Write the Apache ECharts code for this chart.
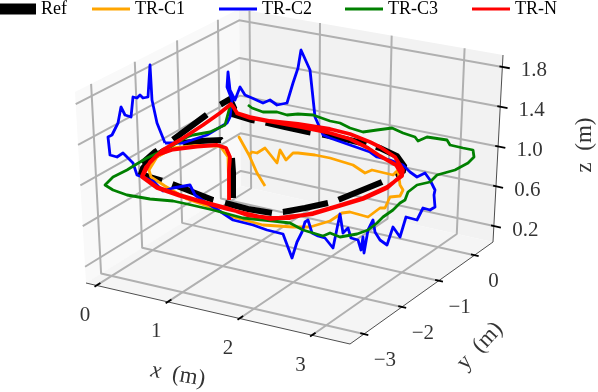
<!DOCTYPE html>
<html>
<head>
<meta charset="utf-8">
<style>html,body{margin:0;padding:0;background:#fff}#chart{width:598px;height:392px}</style>
<script src="https://cdn.jsdelivr.net/npm/echarts@6/dist/echarts.min.js"></script>
</head>
<body>
<div id="chart"></div>
<script>
// tick values of the 3d box
const xTicks = [0, 1, 2, 3];
const yTicks = [0, -1, -2, -3];
const zTicks = [0.2, 0.6, 1.0, 1.4, 1.8];
const xRange = [-0.15, 3.52];
const yRange = [-3.36, 0.53];
const zRange = [0.04, 1.92];

// curves, on the projected view plane (depth can't be recovered from one view)
const refPath = [[233,198],[233,172],[232,158],[227,146],[221,140],[200,141],[183,143],[165,150],[152,158],[143,168],[141,174],[150,177],[160,180],[172,184],[213,200],[225,203],[248,209],[272,213],[283,212],[305,208],[328,203],[338,200],[360,191],[382,182],[395,175],[403,171],[404,166],[397,156],[380,148],[366,144],[345,139],[320,134],[308,132],[285,127],[263,122],[252,120],[232,114],[234,108],[230,99],[218,106],[205,116],[171,141],[155,152],[140,165],[141,174]];
const c1Path = [[229,200],[228,157],[220,146],[197,145.5],[173,148],[157,157],[149,170],[151,177],[165,186],[187,199],[210,207],[233,217],[263,225],[293,227],[310,227],[330,221],[342,213],[350,212],[368,217],[380,208],[385,208],[390,197],[400,196],[403,190],[400,185],[398,170],[393,175],[372,170],[365,173],[353,165],[330,158],[315,155],[298,153],[293,153],[286,160],[280,150],[277,163],[265,148],[257,153],[252,152],[249,155],[239,137],[249,155],[257,173],[265,186]];
const c2Path = [[165,143],[157,123],[152,100],[150,65],[148,97],[143,98],[140,95],[137,98],[133,97],[131,117],[125,115],[121,107],[118,123],[112,135],[108,137],[110,155],[117,157],[123,153],[133,163],[137,175],[145,178],[153,181],[163,191],[173,188],[190,185],[195,195],[205,202],[218,210],[233,220],[253,225],[267,230],[283,234],[292,258],[297,242],[302,232],[305,222],[308,220],[312,233],[318,236],[325,238],[333,248],[340,214],[343,233],[348,228],[351,238],[358,240],[361,250],[363,237],[364,253],[368,230],[373,220],[375,232],[380,240],[387,245],[393,227],[400,237],[406,217],[417,220],[423,208],[430,210],[435,207],[434,195],[435,190],[430,180],[425,173],[417,177],[410,172],[403,165],[390,160],[377,157],[370,152],[350,145],[330,138],[323,135],[315,117],[310,70],[301,50],[298,68],[293,83],[287,103],[277,105],[270,100],[263,103],[252,98],[245,95],[240,87],[235,100],[230,90],[228,72],[227,87],[232,100],[230,117],[227,123],[207,135],[183,143],[165,143]];
const c3Path = [[248,105],[252,108],[263,112],[277,112],[287,115],[298,114],[313,115],[330,121],[340,123],[350,128],[363,132],[377,130],[392,128],[403,133],[415,137],[418,141],[427,137],[447,140],[450,145],[463,148],[473,150],[474,157],[468,163],[455,170],[437,175],[430,182],[417,185],[408,192],[405,200],[400,203],[393,210],[383,217],[377,223],[368,230],[357,234],[340,237],[330,233],[323,236],[313,233],[303,230],[290,223],[273,221],[243,218],[213,210],[187,204],[173,201],[150,199],[127,195],[113,190],[105,185],[113,177],[127,170],[135,165],[147,158],[170,147],[187,137],[193,135],[210,132],[225,125],[229,110],[230,107]];
const nPath = [[229,200],[229,170],[230,157],[226,148],[217,145],[197,146.5],[173,149.5],[157,155],[146,167],[142,176],[157,187],[180,195],[197,200],[227,208],[247,215],[270,218],[290,218],[313,213],[337,206],[363,198],[387,187],[402,176],[403,170],[395,157],[380,147],[370,142],[350,134],[330,129],[298,124],[270,121],[250,117],[237,113],[234,108],[231,104],[220,113],[203,125],[180,140],[163,150],[150,162],[142,177],[157,188],[180,196],[227,209],[270,219],[313,214],[363,199],[387,188],[402,175],[396,165],[380,156],[368,148],[350,139],[330,133],[300,127],[250,118],[236,113]];

const legendNames = ["Ref", "TR-C1", "TR-C2", "TR-C3", "TR-N"];
const legendLeft = [-2, 92, 219, 345, 472];
const curveColors = ["#000000", "#ffa500", "#0000ff", "#008000", "#ff0000"];
const curvePaths = [refPath, c1Path, c2Path, c3Path, nPath];
const curveWidths = [6, 2.8, 2.8, 2.8, 3.8];
// on/off lengths of the Ref dashes as they land along its path
const refDash = [40, 21, 39, 19, 57, 11, 44, 12, 48, 11, 46, 11, 47, 15, 49, 10, 45, 12, 46, 11, 51, 17, 42, 19, 20, 40];

// perspective of the box: one quad for the floor, one for the top, fitted from the corners on the view plane
const floorQuad = [[86, 283], [350, 344], [493, 242], [241, 186]];
const topQuad = [[75, 92], [352, 144], [503, 55], [239, 9]];

function fitQuad(q) {
  let [A, B, C, D] = q;
  let dx1 = B[0] - C[0], dx2 = D[0] - C[0], sx = A[0] - B[0] + C[0] - D[0];
  let dy1 = B[1] - C[1], dy2 = D[1] - C[1], sy = A[1] - B[1] + C[1] - D[1];
  let den = dx1 * dy2 - dx2 * dy1;
  let g = (sx * dy2 - dx2 * sy) / den;
  let h = (dx1 * sy - sx * dy1) / den;
  return function (s, t) {
    let w = 1 + g * s + h * t;
    return [
      (A[0] + (B[0] - A[0] + g * B[0]) * s + (D[0] - A[0] + h * D[0]) * t) / w,
      (A[1] + (B[1] - A[1] + g * B[1]) * s + (D[1] - A[1] + h * D[1]) * t) / w,
    ];
  };
}
const floorAt = fitQuad(floorQuad);
const topAt = fitQuad(topQuad);

function project(x, y, z) {
  let s = (x - xRange[0]) / (xRange[1] - xRange[0]);
  let t = (y - yRange[0]) / (yRange[1] - yRange[0]);
  let r = (z - zRange[0]) / (zRange[1] - zRange[0]);
  let a = floorAt(s, t), b = topAt(s, t);
  return [a[0] + (b[0] - a[0]) * r, a[1] + (b[1] - a[1]) * r];
}

const [x0, x1] = xRange, [y0, y1] = yRange, [z0, z1] = zRange;
const series = [];

function addPane(corners, color) {
  series.push({
    type: "custom",
    silent: true,
    z: 1,
    coordinateSystem: "cartesian2d",
    data: [0],
    renderItem: function (params, api) {
      return {
        type: "polygon",
        shape: { points: corners.map((c) => api.coord(project(c[0], c[1], c[2]))) },
        style: { fill: color },
      };
    },
  });
}

function addLine(points, color, width, z) {
  series.push({
    type: "line",
    silent: true,
    animation: false,
    symbol: "none",
    z: z,
    data: points,
    lineStyle: { color: color, width: width },
  });
}

function addLabels(items, fontSize) {
  series.push({
    type: "scatter",
    silent: true,
    animation: false,
    symbolSize: 1,
    z: 6,
    itemStyle: { color: "transparent" },
    data: items.map((d) => ({
      value: d.pos,
      label: {
        show: true,
        position: "inside",
        align: "center",
        verticalAlign: "middle",
        formatter: d.text,
        rotate: d.rotate || 0,
        color: "#000",
        fontFamily: "Liberation Serif",
        fontSize: fontSize,
        rich: {
          i: { fontFamily: "Liberation Serif", fontStyle: "italic", fontSize: fontSize, color: "#000" },
        },
      },
    })),
  });
}

addPane([[x0, y0, z0], [x0, y1, z0], [x0, y1, z1], [x0, y0, z1]], "#f9f9f9");
addPane([[x0, y1, z0], [x1, y1, z0], [x1, y1, z1], [x0, y1, z1]], "#f2f2f2");
addPane([[x0, y0, z0], [x1, y0, z0], [x1, y1, z0], [x0, y1, z0]], "#f5f5f5");

const gridColor = "#b0b0b0";
xTicks.forEach((x) => {
  addLine([project(x, y0, z0), project(x, y1, z0), project(x, y1, z1)], gridColor, 2, 2);
  addLine([project(x, y0 - 0.05, z0), project(x, y0 + 0.09, z0)], "#000", 1.8, 4);
});
yTicks.forEach((y) => {
  addLine([project(x1, y, z0), project(x0, y, z0), project(x0, y, z1)], gridColor, 2, 2);
  addLine([project(x1 - 0.05, y, z0), project(x1 + 0.06, y, z0)], "#000", 1.8, 4);
});
zTicks.forEach((z) => {
  addLine([project(x0, y0, z), project(x0, y1, z), project(x1, y1, z)], gridColor, 2, 2);
  addLine([project(x1 - 0.04, y1, z), project(x1 + 0.1, y1, z)], "#000", 1.8, 4);
});

// box edges
addLine([project(x0, y0, z0), project(x1, y0, z0), project(x1, y1, z0), project(x1, y1, z1)], "#222", 0.8, 3);

// trajectories, drawn in legend order
legendNames.forEach((name, i) => {
  series.push({
    name: name,
    type: "line",
    animation: false,
    silent: true,
    symbol: "none",
    z: 10 + i,
    data: curvePaths[i],
    lineStyle: {
      color: curveColors[i],
      width: curveWidths[i],
      type: i === 0 ? refDash : "solid",
      join: i === 0 ? "miter" : "round",
    },
    itemStyle: { color: curveColors[i] },
  });
});

const withOffset = (p, dx, dy) => [p[0] + dx, p[1] + dy];
addLabels(xTicks.map((x) => ({ pos: withOffset(project(x, y0, z0), -11.5, 30), text: String(x) })), 21);
addLabels(yTicks.map((y) => ({ pos: withOffset(project(x1, y, z0), y === 0 ? 19 : 21, 26.5), text: y === 0 ? "0" : "\u2212" + Math.abs(y) })), 21);
addLabels(zTicks.map((z) => ({ pos: withOffset(project(x1, y1, z), 31.5, 4), text: z.toFixed(1) })), 21);
addLabels([
  { pos: [178, 375], text: "{i|x}\u00a0\u00a0(m)", rotate: -10 },
  { pos: [480, 346], text: "y\u00a0\u00a0(m)", rotate: 47 },
  { pos: [585, 145], text: "z\u00a0\u00a0(m)", rotate: 90 },
], 23);

const myChart = echarts.init(document.getElementById("chart"), null, { renderer: "canvas" });
myChart.setOption({
  animation: false,
  backgroundColor: "#ffffff",
  grid: { left: 0, right: 0, top: 0, bottom: 0 },
  xAxis: { type: "value", min: 0, max: 598, show: false },
  yAxis: { type: "value", min: 0, max: 392, inverse: true, show: false },
  legend: legendNames.map((name, i) => ({
    left: legendLeft[i],
    top: 0,
    padding: 0,
    itemWidth: 38,
    itemHeight: i === 0 ? 11 : 3,
    selectedMode: false,
    data: [
      {
        name: name,
        icon: "rect",
        itemStyle: { color: curveColors[i], borderWidth: 0 },
      },
    ],
    textStyle: {
      fontFamily: "Liberation Serif",
      fontSize: 18,
      color: "#000",
    },
  })),
  series: series,
});
</script>
</body>
</html>
